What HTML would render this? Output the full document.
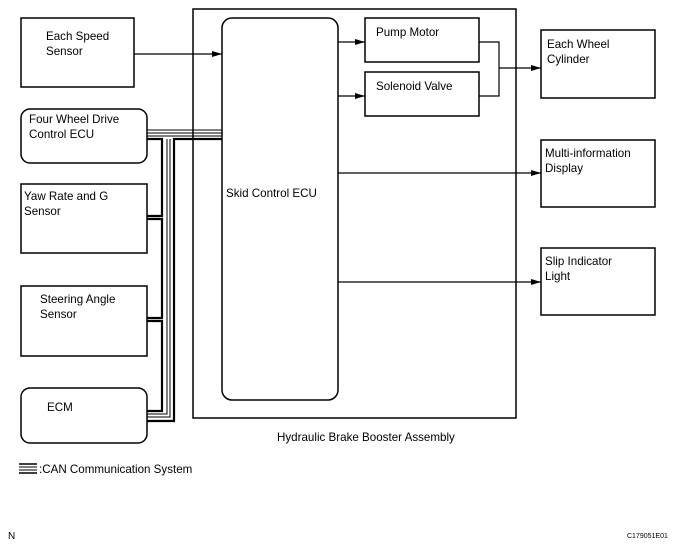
<!DOCTYPE html>
<html><head><style>
html,body{margin:0;padding:0;background:#fff;}
svg{display:block;}
text{font-family:"Liberation Sans",Arial,sans-serif;font-size:11.6px;fill:#000;}
</style></head><body>
<svg width="687" height="549" viewBox="0 0 687 549" xmlns="http://www.w3.org/2000/svg">
<defs>
<marker id="a" markerWidth="10" markerHeight="8" refX="10" refY="4" orient="auto" markerUnits="userSpaceOnUse">
<path d="M0,1 L10,4 L0,7 Z" fill="#000"/></marker>
</defs>
<g fill="none" stroke="#000" stroke-width="1.5">
<rect x="193" y="9" width="323" height="409"/>
<rect x="222" y="18" width="116" height="382" rx="10"/>
<rect x="365" y="18" width="114" height="44"/>
<rect x="365" y="72" width="114" height="44"/>
<rect x="541" y="30" width="114" height="68"/>
<rect x="541" y="140" width="114" height="67"/>
<rect x="541" y="248" width="114" height="67"/>
<rect x="21" y="18" width="113" height="69"/>
<rect x="21" y="109" width="126" height="54" rx="9"/>
<rect x="21" y="184" width="126" height="69"/>
<rect x="21" y="286" width="126" height="70"/>
<rect x="21" y="388" width="126" height="55" rx="9"/>
</g>
<g fill="none" stroke="#000" stroke-width="1.2">
<line x1="134" y1="54" x2="222" y2="54" marker-end="url(#a)"/>
<line x1="338" y1="42" x2="365" y2="42" marker-end="url(#a)"/>
<line x1="338" y1="96" x2="365" y2="96" marker-end="url(#a)"/>
<polyline points="479,42 499,42 499,96 479,96"/>
<line x1="499" y1="68" x2="541" y2="68" marker-end="url(#a)"/>
<line x1="338" y1="173" x2="541" y2="173" marker-end="url(#a)"/>
<line x1="338" y1="282" x2="541" y2="282" marker-end="url(#a)"/>
</g>
<g fill="none" stroke="#000">
<line x1="147" y1="130" x2="222" y2="130" stroke-width="1"/>
<line x1="147" y1="133" x2="222" y2="133" stroke-width="1"/>
<line x1="147" y1="136" x2="222" y2="136" stroke-width="1"/>
<polyline points="147,139 162,139 162,216 147,216" stroke-width="2.2"/>
<polyline points="147,219 162,219 162,318 147,318" stroke-width="2.2"/>
<polyline points="147,321 162,321 162,411 147,411" stroke-width="2.2"/>
<polyline points="147,414 167,414 167,139" stroke-width="1"/>
<polyline points="147,417 170,417 170,139" stroke-width="1"/>
<polyline points="147,421 174,421 174,139 222,139" stroke-width="2.2"/>
</g>
<text x="46" y="40">Each Speed</text>
<text x="46" y="55">Sensor</text>
<text x="29" y="123">Four Wheel Drive</text>
<text x="29" y="138">Control ECU</text>
<text x="24" y="200">Yaw Rate and G</text>
<text x="24" y="215">Sensor</text>
<text x="40" y="303">Steering Angle</text>
<text x="40" y="318">Sensor</text>
<text x="47" y="411">ECM</text>
<text x="226" y="197">Skid Control ECU</text>
<text x="376" y="36">Pump Motor</text>
<text x="376" y="90">Solenoid Valve</text>
<text x="547" y="48">Each Wheel</text>
<text x="547" y="63">Cylinder</text>
<text x="545" y="157">Multi-information</text>
<text x="545" y="172">Display</text>
<text x="545" y="265">Slip Indicator</text>
<text x="545" y="280">Light</text>
<text x="277" y="441">Hydraulic Brake Booster Assembly</text>
<g stroke="#000">
<line x1="19" y1="464" x2="37" y2="464" stroke-width="1.6"/>
<line x1="19" y1="467" x2="37" y2="467" stroke-width="1"/>
<line x1="19" y1="470" x2="37" y2="470" stroke-width="1"/>
<line x1="19" y1="473" x2="37" y2="473" stroke-width="1.6"/>
</g>
<text x="39" y="473">:CAN Communication System</text>
<text x="8" y="539" style="font-size:10px">N</text>
<text x="627" y="538" style="font-size:7px">C179051E01</text>
</svg>
</body></html>
